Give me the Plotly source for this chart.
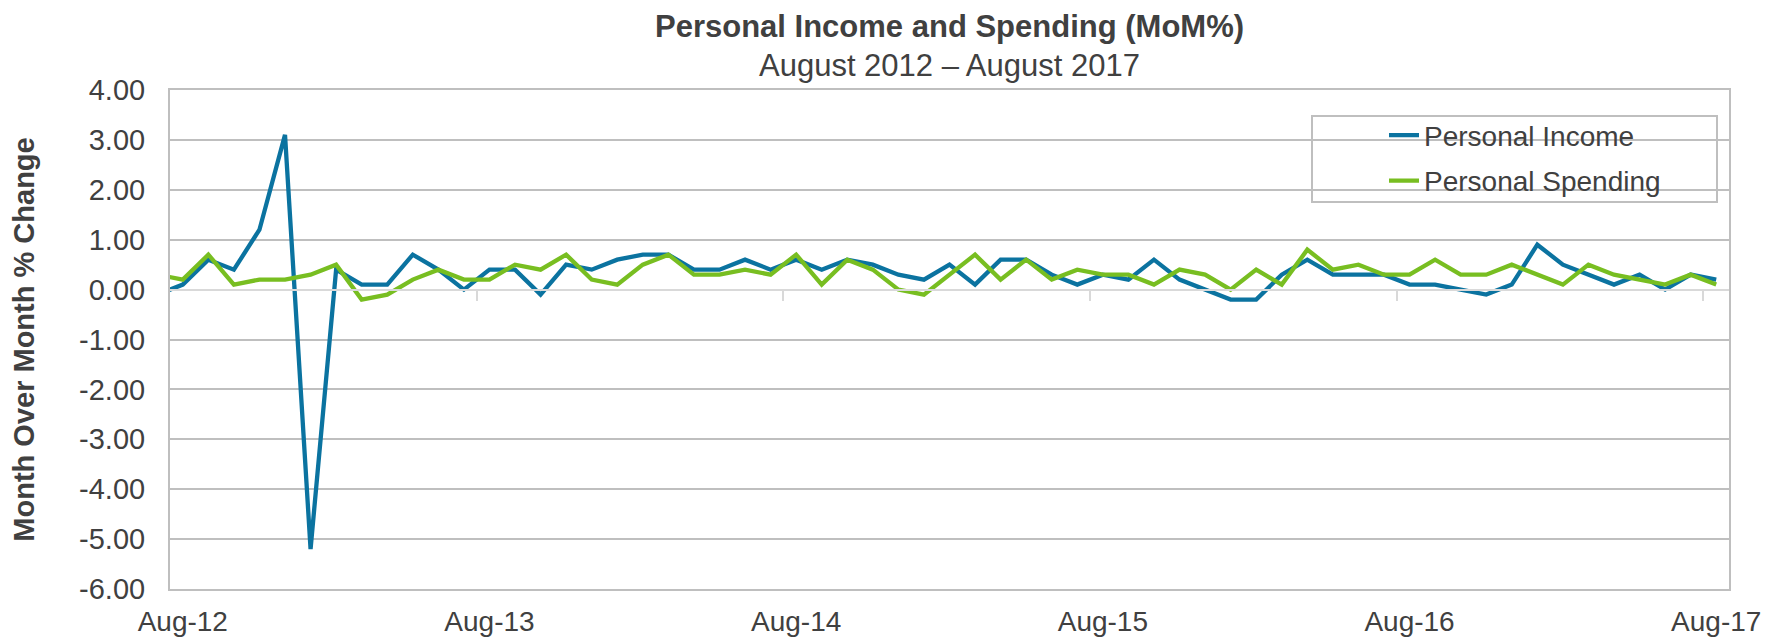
import pandas as pd
import plotly.graph_objects as go

# Monthly labels, Jul-12 .. Aug-17 (Jul-12 sits just left of the axis and is clipped)
months = [d.strftime("%b-%y") for d in pd.date_range("2012-07-01", "2017-08-01", freq="MS")]

personal_income = [
    -0.1, 0.1, 0.6, 0.4, 1.2, 3.1, -5.2, 0.4, 0.1, 0.1, 0.7, 0.4, 0.0,
    0.4, 0.4, -0.1, 0.5, 0.4, 0.6, 0.7, 0.7, 0.4, 0.4, 0.6, 0.4,
    0.6, 0.4, 0.6, 0.5, 0.3, 0.2, 0.5, 0.1, 0.6, 0.6, 0.3, 0.1,
    0.3, 0.2, 0.6, 0.2, 0.0, -0.2, -0.2, 0.3, 0.6, 0.3, 0.3, 0.3,
    0.1, 0.1, 0.0, -0.1, 0.1, 0.9, 0.5, 0.3, 0.1, 0.3, 0.0, 0.3, 0.2,
]
personal_spending = [
    0.3, 0.2, 0.7, 0.1, 0.2, 0.2, 0.3, 0.5, -0.2, -0.1, 0.2, 0.4, 0.2,
    0.2, 0.5, 0.4, 0.7, 0.2, 0.1, 0.5, 0.7, 0.3, 0.3, 0.4, 0.3,
    0.7, 0.1, 0.6, 0.4, 0.0, -0.1, 0.3, 0.7, 0.2, 0.6, 0.2, 0.4,
    0.3, 0.3, 0.1, 0.4, 0.3, 0.0, 0.4, 0.1, 0.8, 0.4, 0.5, 0.3,
    0.3, 0.6, 0.3, 0.3, 0.5, 0.3, 0.1, 0.5, 0.3, 0.2, 0.1, 0.3, 0.1,
]
tick_labels = ["Aug-12", "Aug-13", "Aug-14", "Aug-15", "Aug-16", "Aug-17"]
y_ticks = [-6, -5, -4, -3, -2, -1, 0, 1, 2, 3, 4]

# position of each month, Aug-12 = 0
pos = [i - 1 for i in range(len(months))]
tick_pos = [months.index(t) - 1 for t in tick_labels]
boundary_pos = [p - 0.5 for p in tick_pos[1:]]

TEXT = "#404040"
GRID = "#bfbfbf"
FONT = "Liberation Sans, Arial, sans-serif"

fig = go.Figure()

fig.add_trace(go.Scatter(
    x=pos, y=personal_income, name="Personal Income", mode="lines",
    line=dict(color="#0B73A0", width=4.3), legendgroup="a",
))
fig.add_trace(go.Scatter(
    x=pos, y=personal_spending, name="Personal Spending", mode="lines",
    line=dict(color="#78BE21", width=4.3), legendgroup="b",
))
# empty trace so the zero-crossing axis (x2) gets drawn
fig.add_trace(go.Scatter(x=[], y=[], xaxis="x2", showlegend=False, hoverinfo="skip"))

# the page body has an 8px margin, so the figure is 8px smaller than the window
fig.update_layout(
    width=1775, height=633,
    margin=dict(l=162, r=54, t=82, b=52, autoexpand=False),
    plot_bgcolor="white", paper_bgcolor="white",
    font=dict(family=FONT, size=28, color=TEXT),
    showlegend=True,
    legend=dict(
        x=(1384 - 170) / 1559, y=0.959, xanchor="left", yanchor="top",
        bgcolor="rgba(0,0,0,0)", borderwidth=0,
        font=dict(size=28, color=TEXT), tracegroupgap=6,
    ),
    xaxis=dict(
        range=[-0.5, 60.5], tickmode="array", tickvals=tick_pos, ticktext=tick_labels,
        showgrid=False, zeroline=False, ticks="", ticklabelstandoff=6, automargin=False,
        showline=True, linecolor=GRID, linewidth=2, mirror=True,
        tickfont=dict(size=28, color=TEXT),
    ),
    # axis line with tick marks crossing at zero
    xaxis2=dict(
        range=[-0.5, 60.5], overlaying="x", anchor="free", position=0.6,
        tickmode="array", tickvals=boundary_pos, ticks="outside", ticklen=10,
        tickwidth=2, tickcolor="#d9d9d9", showticklabels=False, automargin=False,
        showgrid=False, zeroline=False, showline=True, linecolor="#d9d9d9", linewidth=2,
    ),
    yaxis=dict(
        range=[-6, 4], tickmode="array", tickvals=y_ticks,
        ticktext=[f"{v:.2f}" for v in y_ticks], automargin=False,
        showgrid=True, gridcolor=GRID, gridwidth=1.5,
        zeroline=True, zerolinecolor="#d9d9d9", zerolinewidth=2,
        showline=True, linecolor=GRID, linewidth=2, mirror=True,
        ticks="", ticklabelstandoff=17,
        tickfont=dict(size=29, color=TEXT),
        title=dict(text="<b>Month Over Month % Change</b>", font=dict(size=29, color=TEXT), standoff=36),
    ),
    annotations=[
        dict(text="<b>Personal Income and Spending (MoM%)</b>", xref="paper", yref="paper",
             x=0.5, y=1 + 63 / 499, xanchor="center", yanchor="middle", showarrow=False,
             font=dict(size=31, color=TEXT)),
        dict(text="August 2012 \u2013 August 2017", xref="paper", yref="paper",
             x=0.5, y=1 + 25 / 499, xanchor="center", yanchor="middle", showarrow=False,
             font=dict(size=31, color=TEXT)),
    ],
    shapes=[
        # legend frame
        dict(type="rect", xref="paper", yref="paper",
             x0=(1312 - 170) / 1559, x1=(1717 - 170) / 1559,
             y0=(589.3 - 202) / 499.3, y1=(589.3 - 116) / 499.3,
             line=dict(color=GRID, width=2), fillcolor="white", layer="below"),
    ],
)

fig.write_html("out.html")
